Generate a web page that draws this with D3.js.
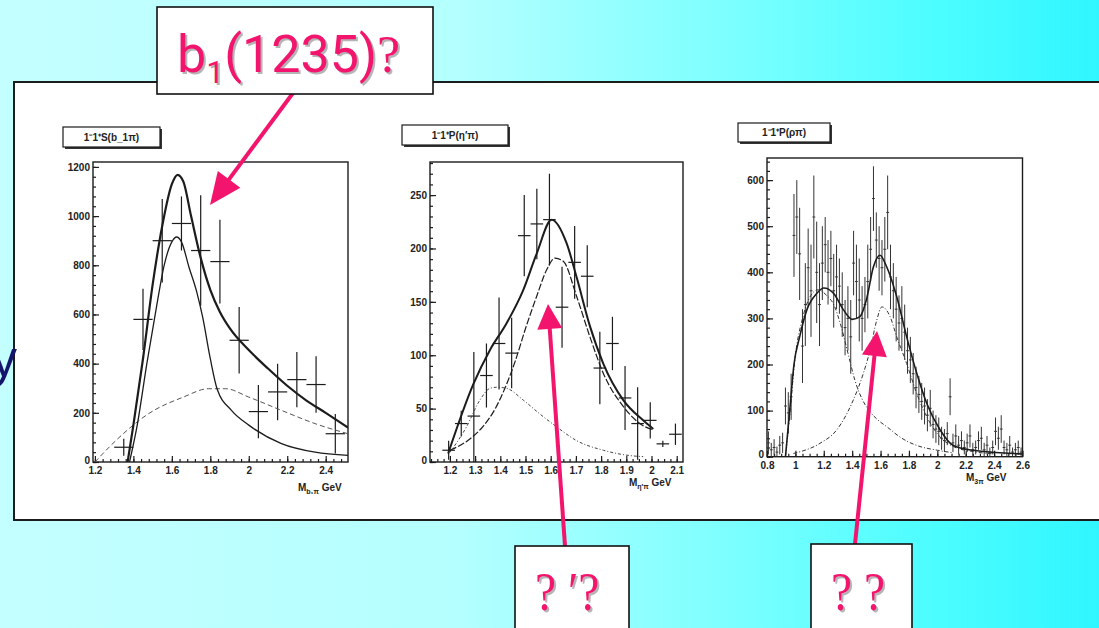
<!DOCTYPE html>
<html>
<head>
<meta charset="utf-8">
<script src="https://cdn.jsdelivr.net/npm/d3@7"></script>
<style>
  body { margin: 0; overflow: hidden; }
  svg { display: block; }
</style>
</head>
<body>
<div id="container"></div>
<script>
/* slide with three scanned PWA fits: b1 pi, eta' pi, rho pi */

// ---- plot 1 : 1-1+S(b1 pi) ----
const b1piX   = [1.35, 1.45, 1.55, 1.65, 1.75, 1.85, 1.95, 2.05, 2.15, 2.25, 2.35, 2.45]
const b1piY   = [60, 580, 900, 970, 860, 815, 495, 205, 285, 335, 315, 115]
const b1piErr = [35, 125, 170, 110, 225, 170, 135, 108, 115, 112, 115, 80]
const b1piTotal = [[1.37,0],[1.40,150],[1.45,420],[1.50,720],[1.55,960],[1.60,1130],[1.63,1168],[1.66,1140],
  [1.70,1000],[1.75,830],[1.80,700],[1.85,610],[1.90,545],[2.0,455],[2.1,380],[2.2,310],[2.3,250],[2.4,200],[2.516,140]]
const b1piRes = [[1.38,0],[1.42,150],[1.47,400],[1.52,630],[1.56,800],[1.60,895],[1.625,915],[1.65,895],[1.69,790],
  [1.73,690],[1.76,590],[1.80,420],[1.835,298],[1.91,210],[2.0,150],[2.17,75],[2.345,40],[2.516,27]]
const b1piBg = [[1.2,0],[1.31,88],[1.48,197],[1.66,264],[1.79,298],[1.88,298],[2.0,264],[2.17,210],[2.345,156],[2.516,115]]
const b1piXTicks = [1.2, 1.4, 1.6, 1.8, 2.0, 2.2, 2.4]
const b1piXLabels = ["1.2", "1.4", "1.6", "1.8", "2", "2.2", "2.4"]
const b1piYTicks = [0, 200, 400, 600, 800, 1000, 1200]
const b1piYLabels = ["0", "200", "400", "600", "800", "1000", "1200"]

// ---- plot 2 : 1-1+P(eta' pi) ----
const etapX   = [1.195, 1.245, 1.295, 1.345, 1.395, 1.445, 1.495, 1.545, 1.595, 1.645, 1.695, 1.745, 1.795, 1.845, 1.895, 1.945, 1.995, 2.045, 2.095]
const etapY   = [11, 36, 43, 81, 111, 102, 212, 223, 227, 145, 187, 174, 88, 111, 60, 36, 39, 17, 26]
const etapErr = [9, 12, 60, 30, 43, 33, 38, 33, 43, 38, 34, 29, 34, 25, 30, 34, 17, 3, 10]
const etapTotal = [[1.193,8],[1.293,73],[1.359,105],[1.425,130],[1.491,161],[1.544,195],[1.604,227],[1.663,205],
  [1.703,173],[1.756,127],[1.809,92],[1.888,58],[1.967,39],[2.007,31]]
const etapRes = [[1.2,11],[1.27,20],[1.33,33],[1.38,50],[1.42,70],[1.46,95],[1.50,125],[1.544,155],[1.584,180],
  [1.617,191],[1.65,188],[1.703,155],[1.756,117],[1.809,83],[1.888,52],[1.967,34],[2.007,30]]
const etapBg = [[1.2,9],[1.266,33],[1.319,58],[1.359,69],[1.385,70],[1.425,69],[1.491,58],[1.557,45],[1.623,33],
  [1.703,20],[1.809,11],[1.915,6],[1.967,5]]
const etapXTicks = [1.2, 1.3, 1.4, 1.5, 1.6, 1.7, 1.8, 1.9, 2.0, 2.1]
const etapXLabels = ["1.2", "1.3", "1.4", "1.5", "1.6", "1.7", "1.8", "1.9", "2", "2.1"]
const etapYTicks = [0, 50, 100, 150, 200, 250]
const etapYLabels = ["0", "50", "100", "150", "200", "250"]

// ---- plot 3 : 1-1+P(rho pi) ----
const rhopiX = [0.81,0.83,0.85,0.87,0.89,0.91,0.93,0.95,0.97,0.99,1.01,1.03,1.05,1.07,1.09,1.11,1.13,1.15,1.17,1.19,
  1.21,1.23,1.25,1.27,1.29,1.31,1.33,1.35,1.37,1.39,1.41,1.43,1.45,1.47,1.49,1.51,1.53,1.55,1.57,1.59,
  1.61,1.63,1.65,1.67,1.69,1.71,1.73,1.75,1.77,1.79,1.81,1.83,1.85,1.87,1.89,1.91,1.93,1.95,1.97,1.99,
  2.01,2.03,2.05,2.07,2.09,2.11,2.13,2.15,2.17,2.19,2.21,2.23,2.25,2.27,2.29,2.31,2.33,2.35,2.37,2.39,
  2.41,2.43,2.45,2.47,2.49,2.51,2.53,2.55,2.57,2.59]
const rhopiY = [30,15,20,10,25,30,110,95,130,480,520,440,240,330,410,360,520,400,330,420,
  460,400,430,360,390,370,330,280,300,260,420,380,340,300,330,380,450,560,470,430,
  410,450,530,390,360,320,290,300,270,230,210,180,150,135,120,110,90,105,70,60,
  55,40,35,50,130,30,45,25,35,20,30,45,15,20,35,40,15,25,10,20,
  55,40,60,20,15,25,10,15,20,10]
const rhopiErr = [25,15,18,12,20,22,40,45,50,90,80,100,80,90,85,100,90,110,90,80,
  60,70,60,80,70,60,70,60,70,80,70,80,90,70,60,80,70,70,60,70,
  60,70,80,70,60,70,60,70,60,50,50,45,45,40,40,40,35,40,30,30,
  30,25,25,25,40,20,25,20,20,15,20,25,15,15,20,25,15,20,10,15,
  30,25,30,15,15,20,10,15,15,10]
const rhopiTotal = [[0.93,0],[0.96,100],[0.99,200],[1.03,260],[1.08,318],[1.15,354],[1.2,366],[1.27,354],[1.34,318],
  [1.40,298],[1.455,304],[1.50,340],[1.55,412],[1.596,437],[1.643,412],[1.714,347],[1.784,260],[1.855,181],
  [1.925,116],[2.02,58],[2.11,25],[2.25,14],[2.6,6]]
const rhopiRes1 = [[0.93,0],[0.96,90],[1.0,220],[1.05,300],[1.1,345],[1.16,362],[1.22,350],[1.27,330],[1.32,285],
  [1.37,225],[1.42,165],[1.47,125],[1.52,100],[1.58,80],[1.644,65],[1.75,40],[1.85,25],[2.0,14],[2.1,9]]
const rhopiRes2 = [[0.986,7],[1.173,29],[1.291,58],[1.408,123],[1.479,181],[1.526,231],[1.573,296],[1.61,325],
  [1.667,304],[1.714,260],[1.784,202],[1.855,137],[1.925,87],[2.019,43],[2.113,22],[2.254,11],[2.4,6]]
const rhopiXTicks = [0.8, 1.0, 1.2, 1.4, 1.6, 1.8, 2.0, 2.2, 2.4, 2.6]
const rhopiXLabels = ["0.8", "1", "1.2", "1.4", "1.6", "1.8", "2", "2.2", "2.4", "2.6"]
const rhopiYTicks = [0, 100, 200, 300, 400, 500, 600]
const rhopiYLabels = ["0", "100", "200", "300", "400", "500", "600"]

const pink = "#f3156d"
const ink = "#1c1c1c"

const svg = d3.select("#container")
  .append("svg")
  .attr("width", 1099)
  .attr("height", 628)

const defs = svg.append("defs")
const grad = defs.append("linearGradient").attr("id", "bg").attr("x1", 0).attr("x2", 1).attr("y1", 0).attr("y2", 0)
grad.append("stop").attr("offset", "0%").attr("stop-color", "#c4ffff")
grad.append("stop").attr("offset", "42%").attr("stop-color", "#b4ffff")
grad.append("stop").attr("offset", "64%").attr("stop-color", "#82ffff")
grad.append("stop").attr("offset", "85%").attr("stop-color", "#4cfdff")
grad.append("stop").attr("offset", "100%").attr("stop-color", "#30f6ff")

svg.append("rect").attr("width", 1099).attr("height", 628).attr("fill", "url(#bg)")

// white panel holding the scan
svg.append("rect")
  .attr("x", 14).attr("y", 82).attr("width", 1110).attr("height", 438)
  .attr("fill", "#fff").attr("stroke", ink).attr("stroke-width", 2)

// left-over letter of the slide text
svg.append("text")
  .attr("x", 17).attr("y", 376)
  .attr("text-anchor", "end")
  .style("font-family", "'Liberation Sans', Arial, sans-serif")
  .style("font-size", "52px")
  .attr("fill", "#15156e")
  .text("y")

const plots = [
  { id: "p1", left: 93, right: 348, top: 162, bottom: 462, xDomain: [1.19, 2.516], yDomain: [0, 1220],
    xTicks: b1piXTicks, xLabels: b1piXLabels, yTicks: b1piYTicks, yLabels: b1piYLabels, xMinor: 0.04, yMinor: 40,
    X: b1piX, Y: b1piY, E: b1piErr, half: 0.05, errColor: ink, errWidth: 1.2,
    fits: [
      { pts: b1piBg, w: 1, dash: "5,3", color: "#555" },
      { pts: b1piRes, w: 1.3, dash: null, color: ink },
      { pts: b1piTotal, w: 2.2, dash: null, color: ink }
    ],
    title: "1⁻1⁺S(b_1π)", box: [63, 127, 97, 20],
    mass: ["M", "b₁π", " GeV"], massPos: [298, 491] },
  { id: "p2", left: 430, right: 683, top: 162, bottom: 462, xDomain: [1.121, 2.125], yDomain: [0, 281],
    xTicks: etapXTicks, xLabels: etapXLabels, yTicks: etapYTicks, yLabels: etapYLabels, xMinor: 0.025, yMinor: 10,
    X: etapX, Y: etapY, E: etapErr, half: 0.025, errColor: ink, errWidth: 1.2,
    fits: [
      { pts: etapBg, w: 1, dash: "3,2,1,2", color: "#444" },
      { pts: etapRes, w: 1.2, dash: "7,2", color: ink },
      { pts: etapTotal, w: 2, dash: null, color: ink }
    ],
    title: "1⁻1⁺P(η′π)", box: [402, 125, 106, 20],
    mass: ["M", "η′π", " GeV"], massPos: [629, 486] },
  { id: "p3", left: 767, right: 1022.5, top: 158, bottom: 456.7, xDomain: [0.8, 2.6], yDomain: [0, 648],
    xTicks: rhopiXTicks, xLabels: rhopiXLabels, yTicks: rhopiYTicks, yLabels: rhopiYLabels, xMinor: 0.05, yMinor: 20,
    X: rhopiX, Y: rhopiY, E: rhopiErr, half: 0.01, errColor: "#333", errWidth: 1,
    fits: [
      { pts: rhopiRes1, w: 1, dash: "4,2,1,2", color: "#333" },
      { pts: rhopiRes2, w: 1, dash: "4,2,1,2", color: "#333" },
      { pts: rhopiTotal, w: 1.6, dash: null, color: ink }
    ],
    title: "1⁻1⁺P(ρπ)", box: [738, 123, 92, 19],
    mass: ["M", "3π", " GeV"], massPos: [966, 481] }
]

const tickFont = "'Liberation Sans', Arial, sans-serif"

plots.forEach(p => {
  const x = d3.scaleLinear().domain(p.xDomain).range([p.left, p.right])
  const y = d3.scaleLinear().domain(p.yDomain).range([p.bottom, p.top])
  const g = svg.append("g")

  defs.append("clipPath").attr("id", "clip-" + p.id)
    .append("rect").attr("x", p.left).attr("y", p.top)
    .attr("width", p.right - p.left).attr("height", p.bottom - p.top)

  // minor ticks
  const xMinorVals = d3.range(Math.ceil(p.xDomain[0] / p.xMinor) * p.xMinor, p.xDomain[1], p.xMinor)
  const yMinorVals = d3.range(0, p.yDomain[1], p.yMinor)
  g.append("g").attr("transform", `translate(0,${p.bottom})`)
    .call(d3.axisBottom(x).tickValues(xMinorVals).tickSize(-3).tickFormat(""))
    .call(a => a.select(".domain").remove())
  g.append("g").attr("transform", `translate(${p.left},0)`)
    .call(d3.axisLeft(y).tickValues(yMinorVals).tickSize(-3).tickFormat(""))
    .call(a => a.select(".domain").remove())

  // major ticks + labels
  g.append("g").attr("transform", `translate(0,${p.bottom})`)
    .call(d3.axisBottom(x).tickValues(p.xTicks).tickFormat((d, i) => p.xLabels[i]).tickSizeInner(-6).tickSizeOuter(0).tickPadding(5))
    .call(a => a.select(".domain").remove())
  g.append("g").attr("transform", `translate(${p.left},0)`)
    .call(d3.axisLeft(y).tickValues(p.yTicks).tickFormat((d, i) => p.yLabels[i]).tickSizeInner(-6).tickSizeOuter(0).tickPadding(3))
    .call(a => a.select(".domain").remove())
    .call(a => a.selectAll(".tick text").filter(d => d === 0).attr("dy", "0.1em"))

  g.selectAll(".tick line").attr("stroke", ink).attr("stroke-width", 1.2)
  g.selectAll(".tick text")
    .style("font-family", tickFont).style("font-size", "10px").style("font-weight", "bold")
    .attr("fill", "#222")

  // frame
  g.append("rect")
    .attr("x", p.left).attr("y", p.top)
    .attr("width", p.right - p.left).attr("height", p.bottom - p.top)
    .attr("fill", "none").attr("stroke", ink).attr("stroke-width", 1.4)

  const inner = g.append("g").attr("clip-path", `url(#clip-${p.id})`)

  // data points with error bars
  const pts = p.X.map((d, i) => ({ x: d, y: p.Y[i], e: p.E[i] }))
  const pg = inner.append("g").attr("stroke", p.errColor).attr("stroke-width", p.errWidth)
  pg.selectAll(".ev").data(pts).join("line")
    .attr("x1", d => x(d.x)).attr("x2", d => x(d.x))
    .attr("y1", d => y(Math.max(0, d.y - d.e))).attr("y2", d => y(d.y + d.e))
  pg.selectAll(".eh").data(pts).join("line")
    .attr("x1", d => x(d.x - p.half)).attr("x2", d => x(d.x + p.half))
    .attr("y1", d => y(d.y)).attr("y2", d => y(d.y))

  // fitted curves
  const line = d3.line().x(d => x(d[0])).y(d => y(d[1])).curve(d3.curveMonotoneX)
  p.fits.forEach(f => {
    inner.append("path")
      .attr("d", line(f.pts))
      .attr("fill", "none")
      .attr("stroke", f.color)
      .attr("stroke-width", f.w)
      .attr("stroke-dasharray", f.dash)
  })

  // title box with shadow
  const [bx, by, bw, bh] = p.box
  g.append("rect").attr("x", bx + 2).attr("y", by + 2).attr("width", bw).attr("height", bh).attr("fill", "#333")
  g.append("rect").attr("x", bx).attr("y", by).attr("width", bw).attr("height", bh)
    .attr("fill", "#fff").attr("stroke", ink).attr("stroke-width", 1.2)
  g.append("text")
    .attr("x", bx + bw / 2).attr("y", by + bh / 2 + 3.8)
    .attr("text-anchor", "middle")
    .style("font-family", tickFont).style("font-size", "10px").style("font-weight", "bold")
    .attr("fill", "#222")
    .text(p.title)

  // mass axis title
  const mt = g.append("text")
    .attr("x", p.massPos[0]).attr("y", p.massPos[1])
    .style("font-family", tickFont).style("font-size", "10px").style("font-weight", "bold")
    .attr("fill", "#222")
  mt.append("tspan").text(p.mass[0])
  mt.append("tspan").attr("dy", 3).style("font-size", "7px").text(p.mass[1])
  mt.append("tspan").attr("dy", -3).text(p.mass[2])
})

// ---- annotations ----
function arrow(x1, y1, x2, y2, len, half) {
  const ang = Math.atan2(y2 - y1, x2 - x1)
  const bx = x2 - len * Math.cos(ang), by = y2 - len * Math.sin(ang)
  const nx = -Math.sin(ang) * half, ny = Math.cos(ang) * half
  svg.append("line")
    .attr("x1", x1).attr("y1", y1).attr("x2", bx + 2 * Math.cos(ang)).attr("y2", by + 2 * Math.sin(ang))
    .attr("stroke", pink).attr("stroke-width", 4)
  svg.append("path")
    .attr("d", `M${x2},${y2}L${bx + nx},${by + ny}L${bx - nx},${by - ny}Z`)
    .attr("fill", pink)
}

function labelBox(x, y, w, h) {
  svg.append("rect").attr("x", x).attr("y", y).attr("width", w).attr("height", h)
    .attr("fill", "#fff").attr("stroke", "#111").attr("stroke-width", 1.6)
}

function shadowText(tx, ty, sx, build) {
  ;[["#b5b5b5", 2, 2], [pink, 0, 0]].forEach(([c, dx, dy]) => {
    const t = svg.append("g")
      .attr("transform", `translate(${tx + dx},${ty + dy}) scale(${sx},1)`)
      .append("text").attr("fill", c)
    build(t)
  })
}

arrow(293, 93, 210, 205, 32, 14)
arrow(565, 546, 548, 304, 25, 12.5)
arrow(855, 544, 877, 331, 25, 12.5)

labelBox(157, 7, 276, 87)
labelBox(515, 546, 114, 100)
labelBox(811, 544, 101, 100)

shadowText(177, 72, 1.0, t => {
  t.style("font-family", "Roboto, sans-serif").style("font-size", "52px")
  t.append("tspan").text("b")
  t.append("tspan").attr("dy", 11).style("font-size", "32px").text("1")
  t.append("tspan").attr("dy", -11).text("(1235)")
  t.append("tspan").style("font-family", "'Liberation Serif', serif").text("?")
})
shadowText(535, 610, 0.88, t => {
  t.style("font-family", "'Liberation Serif', serif").style("font-size", "54px").text("? ′?")
})
shadowText(831, 610, 0.88, t => {
  t.style("font-family", "'Liberation Serif', serif").style("font-size", "54px").text("? ?")
})
</script>
</body>
</html>
